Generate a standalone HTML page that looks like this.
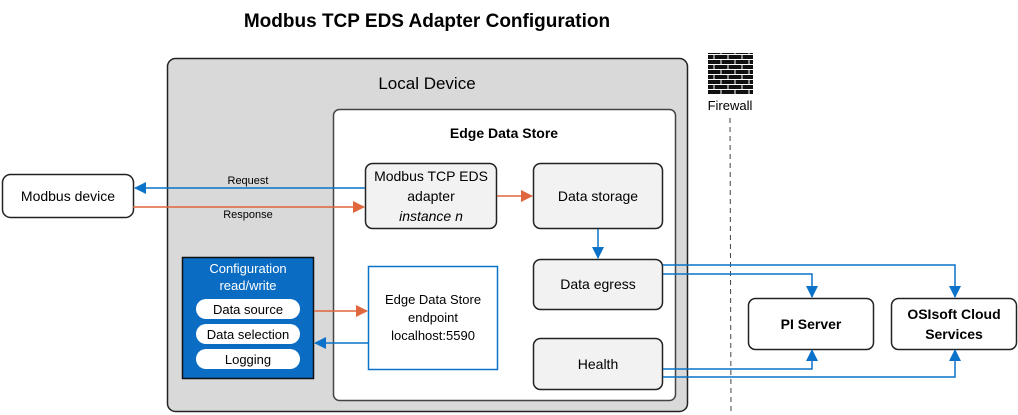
<!DOCTYPE html>
<html><head><meta charset="utf-8"><style>
html,body{margin:0;padding:0;background:#fff;}
svg{display:block;font-family:"Liberation Sans",sans-serif;}
</style></head><body>
<svg width="1018" height="415" viewBox="0 0 1018 415" xmlns="http://www.w3.org/2000/svg">
<defs>
<marker id="ab" markerWidth="12" markerHeight="12" refX="11" refY="6" orient="auto" markerUnits="userSpaceOnUse"><path d="M0,0 L12,6 L0,12 z" fill="#0b72c9"/></marker>
<marker id="ao" markerWidth="12" markerHeight="12" refX="11" refY="6" orient="auto" markerUnits="userSpaceOnUse"><path d="M0,0 L12,6 L0,12 z" fill="#e0663e"/></marker>
<pattern id="brick" width="14" height="10" patternUnits="userSpaceOnUse"><rect width="14" height="10" fill="#111"/><path d="M0,4.5 H14 M0,9.5 H14 M7,0 V4.5 M0,5 V9.5 M14,5 V9.5" stroke="#fff" stroke-width="1"/></pattern>
</defs>
<text x="427" y="27" font-size="19" font-weight="bold" text-anchor="middle" fill="#000">Modbus TCP EDS Adapter Configuration</text>
<rect x="167.5" y="58.5" width="520" height="353" rx="8" fill="#d9d9d9" stroke="#222" stroke-width="1.5"/>
<text x="427" y="89" font-size="17" text-anchor="middle">Local Device</text>
<rect x="333.5" y="109.5" width="342" height="291" rx="6" fill="#fff" stroke="#444" stroke-width="1.5"/>
<text x="504" y="138" font-size="14" font-weight="bold" text-anchor="middle">Edge Data Store</text>
<rect x="365.5" y="163.5" width="131" height="65" rx="7" fill="#f2f2f2" stroke="#222" stroke-width="1.5"/>
<text x="431" y="181" font-size="14" text-anchor="middle">Modbus TCP EDS</text>
<text x="431" y="201" font-size="14" text-anchor="middle">adapter</text>
<text x="431" y="221" font-size="14" font-style="italic" text-anchor="middle">instance n</text>
<rect x="533.5" y="163.5" width="129" height="65" rx="7" fill="#f2f2f2" stroke="#222" stroke-width="1.5"/>
<text x="598" y="201" font-size="14" text-anchor="middle">Data storage</text>
<rect x="533.5" y="259.5" width="129" height="50" rx="7" fill="#f2f2f2" stroke="#222" stroke-width="1.5"/>
<text x="598" y="289" font-size="14" text-anchor="middle">Data egress</text>
<rect x="533.5" y="338.5" width="129" height="51" rx="7" fill="#f2f2f2" stroke="#222" stroke-width="1.5"/>
<text x="598" y="369" font-size="14" text-anchor="middle">Health</text>
<rect x="368.5" y="266.5" width="129" height="103" fill="#fff" stroke="#0b72c9" stroke-width="1.5"/>
<text x="433" y="304" font-size="13" text-anchor="middle">Edge Data Store</text>
<text x="433" y="322" font-size="13" text-anchor="middle">endpoint</text>
<text x="433" y="340" font-size="13" text-anchor="middle">localhost:5590</text>
<rect x="182.5" y="257.5" width="131" height="121" fill="#0b6cc4" stroke="#111" stroke-width="1.5"/>
<text x="248" y="273" font-size="13" fill="#fff" text-anchor="middle">Configuration</text>
<text x="248" y="290" font-size="13" fill="#fff" text-anchor="middle">read/write</text>
<rect x="196" y="299" width="104" height="20" rx="10" fill="#fff"/>
<text x="248" y="314" font-size="13" text-anchor="middle">Data source</text>
<rect x="196" y="324" width="104" height="20" rx="10" fill="#fff"/>
<text x="248" y="339" font-size="13" text-anchor="middle">Data selection</text>
<rect x="196" y="349" width="104" height="20" rx="10" fill="#fff"/>
<text x="248" y="364" font-size="13" text-anchor="middle">Logging</text>
<rect x="2.5" y="174.5" width="131" height="43" rx="8" fill="#fff" stroke="#222" stroke-width="1.5"/>
<text x="68" y="201" font-size="14" text-anchor="middle">Modbus device</text>
<rect x="748.5" y="298.5" width="125" height="51" rx="7" fill="#fff" stroke="#222" stroke-width="1.5"/>
<text x="811" y="329" font-size="14" font-weight="bold" text-anchor="middle">PI Server</text>
<rect x="891.5" y="298.5" width="125" height="51" rx="7" fill="#fff" stroke="#222" stroke-width="1.5"/>
<text x="954" y="319" font-size="14" font-weight="bold" text-anchor="middle">OSIsoft Cloud</text>
<text x="954" y="339" font-size="14" font-weight="bold" text-anchor="middle">Services</text>
<rect x="708" y="53" width="45" height="42" fill="url(#brick)"/>
<text x="730" y="110" font-size="13" text-anchor="middle">Firewall</text>
<line x1="730" y1="118" x2="731" y2="412" stroke="#444" stroke-width="1" stroke-dasharray="5,4"/>
<g fill="none" stroke-width="1.5">
<line x1="365" y1="188" x2="135" y2="188" stroke="#0b72c9" marker-end="url(#ab)"/>
<line x1="133" y1="207" x2="364" y2="207" stroke="#e0663e" marker-end="url(#ao)"/>
<line x1="497" y1="196" x2="532" y2="196" stroke="#e0663e" marker-end="url(#ao)"/>
<line x1="598" y1="229" x2="598" y2="258" stroke="#0b72c9" marker-end="url(#ab)"/>
<line x1="314" y1="311" x2="367" y2="311" stroke="#e0663e" marker-end="url(#ao)"/>
<line x1="368" y1="343" x2="315" y2="343" stroke="#0b72c9" marker-end="url(#ab)"/>
<polyline points="663,265 955,265 955,297" stroke="#0b72c9" marker-end="url(#ab)"/>
<polyline points="663,274 812,274 812,297" stroke="#0b72c9" marker-end="url(#ab)"/>
<polyline points="663,369 812,369 812,350" stroke="#0b72c9" marker-end="url(#ab)"/>
<polyline points="663,377 955,377 955,350" stroke="#0b72c9" marker-end="url(#ab)"/>
</g>
<text x="248" y="184" font-size="11" text-anchor="middle">Request</text>
<text x="248" y="218" font-size="11" text-anchor="middle">Response</text>
</svg>
</body></html>
